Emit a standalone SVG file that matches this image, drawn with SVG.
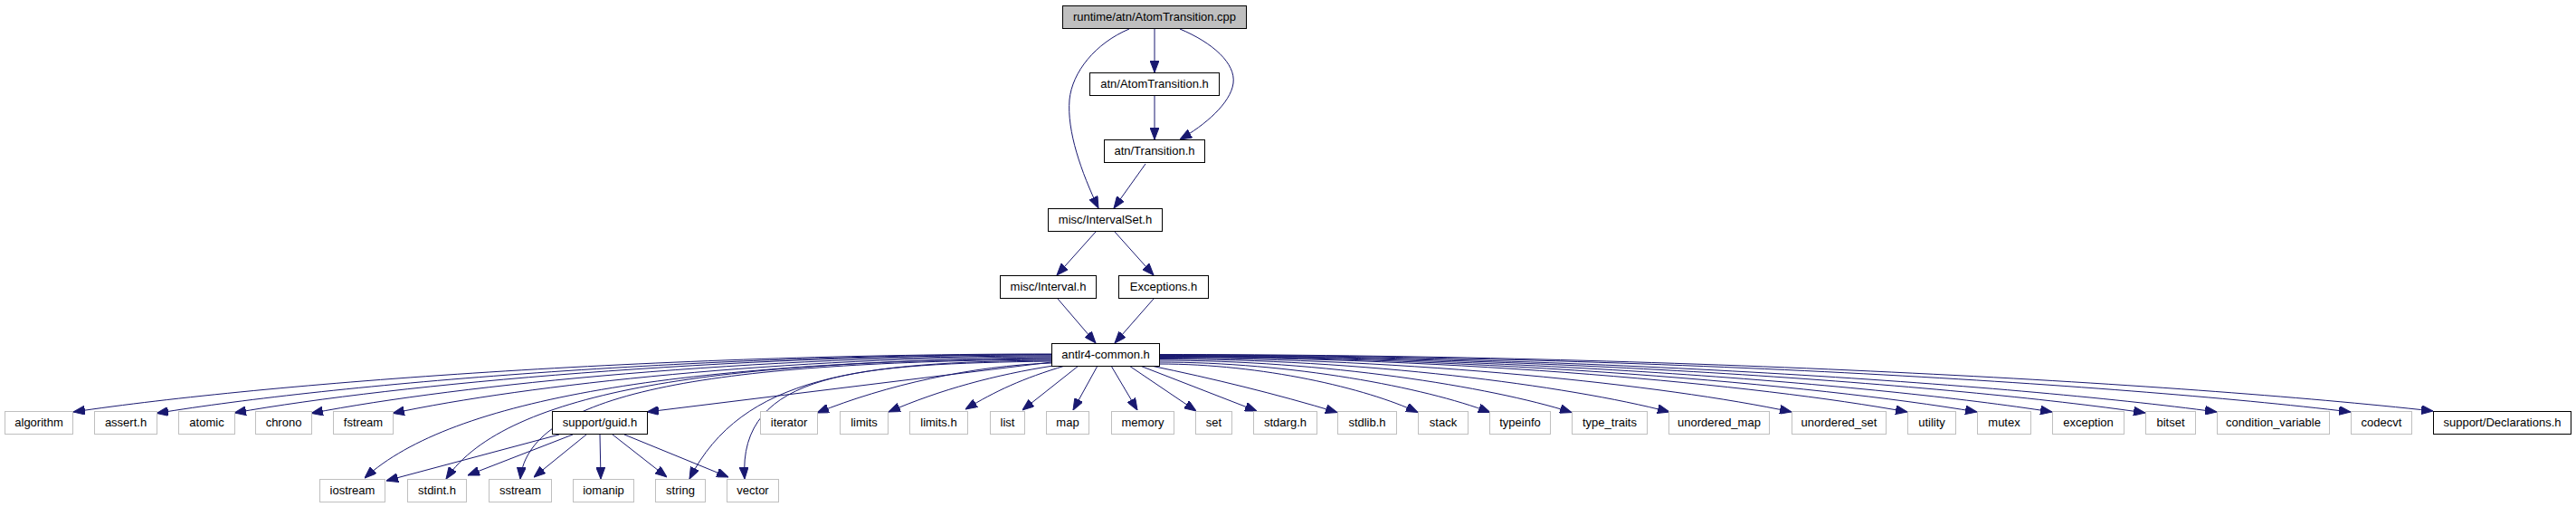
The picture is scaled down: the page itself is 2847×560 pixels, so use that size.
<svg xmlns="http://www.w3.org/2000/svg" width="2847" height="560" viewBox="0 0 2847 560">
<style>
.n rect{fill:#ffffff;stroke:#000000;stroke-width:1}
.n.root rect{fill:#bfbfbf}
.n.ext rect{stroke:#bfbfbf}
.n text{font-family:"Liberation Sans",Arial,sans-serif;font-size:13px;fill:#000000;text-anchor:middle}
.e path{fill:none;stroke:#191970;stroke-width:1;marker-end:url(#ah)}
</style>
<defs>
<marker id="ah" markerUnits="userSpaceOnUse" markerWidth="13" markerHeight="10" refX="13" refY="5" orient="auto">
<path d="M0,0 L13,5 L0,10 z" fill="#191970" stroke="#191970" stroke-width="1"/>
</marker>
</defs>
<rect x="0" y="0" width="2847" height="560" fill="#ffffff"/>
<g id="connectors" class="e">
<path d="M1276,32 L1276,80"/>
<path d="M1276,106 L1276,154"/>
<path d="M1304,32 C1340,47 1366,70 1363,92 C1360,114 1332,138 1304,154"/>
<path d="M1248,32 C1210,48 1185,80 1182,110 C1179,145 1195,190 1214,230"/>
<path d="M1266,181 L1231,230"/>
<path d="M1211,256 L1168,304"/>
<path d="M1232,256 L1275,304"/>
<path d="M1169,330 L1211,379"/>
<path d="M1275,330 L1232,379"/>
<path d="M1162,391 C729.6,391 297.2,423 81,455"/>
<path d="M1162,391.5 C766.4,391.5 370.8,424 173,456.5"/>
<path d="M1162,392 C800.8,392 439.6,424 259,456"/>
<path d="M1162,393 C834.8,393 507.6,424.75 344,456.5"/>
<path d="M1162,394 C870.8,394 579.6,425.25 434,456.5"/>
<path d="M1162,395 C750,400 500,440 403,528"/>
<path d="M1162,396 C800,398 560,430 493,529"/>
<path d="M1162,397 C800,400 585,430 575,529"/>
<path d="M1162,398 C950,400 820,415 762,529"/>
<path d="M1162,399 C950,402 815,410 823,529"/>
<path d="M1162,400 L715,455"/>
<path d="M1162,401 C1075,404 980,425 903,456"/>
<path d="M1164,404 C1100,414 1040,430 982,455"/>
<path d="M1177,404 C1130,418 1100,432 1067,452"/>
<path d="M1192,404 L1130,453"/>
<path d="M1213,404 L1186,453"/>
<path d="M1228,404 L1257,453"/>
<path d="M1248,404 L1322,454"/>
<path d="M1260,404 L1389,454"/>
<path d="M1272,404 C1340,418 1410,435 1478,455.5"/>
<path d="M1281,402 C1395.4,402 1509.8,428.75 1567,455.5"/>
<path d="M1281,400 C1427.4,400 1573.8,427.75 1647,455.5"/>
<path d="M1281,398 C1463.4,398 1645.8,426.75 1737,455.5"/>
<path d="M1281,396.5 C1506.6,396.5 1732.2,425.75 1845,455"/>
<path d="M1281,395.5 C1560.6,395.5 1840.2,425.25 1980,455"/>
<path d="M1281,394.5 C1611.8,394.5 1942.6,424.75 2108,455"/>
<path d="M1281,394 C1642.6,394 2004.2,424.5 2185,455"/>
<path d="M1281,393.5 C1675.8,393.5 2070.6,424.25 2268,455"/>
<path d="M1281,393 C1717,393 2153,424.5 2371,456"/>
<path d="M1281,392.5 C1748.6,392.5 2216.2,423.75 2450,455"/>
<path d="M1281,392 C1807.8,392 2334.6,423.5 2598,455"/>
<path d="M1281,391.5 C1844.2,391.5 2407.4,422.75 2689,454"/>
<path d="M618,480 L427,531"/>
<path d="M633,480 L517,525"/>
<path d="M648,480 L590,527"/>
<path d="M663,480 L664,529"/>
<path d="M677,480 L737,527"/>
<path d="M690,480 L805,527"/>
</g>
<g id="node_root" class="n root"><rect x="1174.5" y="6.5" width="203" height="25"/><text x="1276" y="23">runtime/atn/AtomTransition.cpp</text></g>
<g id="node_atomtransition_h" class="n"><rect x="1204.5" y="80.5" width="143" height="25"/><text x="1276" y="97">atn/AtomTransition.h</text></g>
<g id="node_transition_h" class="n"><rect x="1220.5" y="154.5" width="111" height="25"/><text x="1276" y="171">atn/Transition.h</text></g>
<g id="node_intervalset_h" class="n"><rect x="1158.5" y="230.5" width="126" height="25"/><text x="1221.5" y="247">misc/IntervalSet.h</text></g>
<g id="node_interval_h" class="n"><rect x="1105.5" y="304.5" width="106" height="25"/><text x="1158.5" y="321">misc/Interval.h</text></g>
<g id="node_exceptions_h" class="n"><rect x="1236.5" y="304.5" width="99" height="25"/><text x="1286" y="321">Exceptions.h</text></g>
<g id="node_antlr4_common_h" class="n"><rect x="1162.5" y="379.5" width="119" height="25"/><text x="1222" y="396">antlr4-common.h</text></g>
<g id="node_algorithm" class="n ext"><rect x="5.5" y="454.5" width="75" height="25"/><text x="43" y="471">algorithm</text></g>
<g id="node_assert_h" class="n ext"><rect x="104.5" y="454.5" width="69" height="25"/><text x="139" y="471">assert.h</text></g>
<g id="node_atomic" class="n ext"><rect x="197.5" y="454.5" width="62" height="25"/><text x="228.5" y="471">atomic</text></g>
<g id="node_chrono" class="n ext"><rect x="282.5" y="454.5" width="62" height="25"/><text x="313.5" y="471">chrono</text></g>
<g id="node_fstream" class="n ext"><rect x="368.5" y="454.5" width="66" height="25"/><text x="401.5" y="471">fstream</text></g>
<g id="node_guid_h" class="n"><rect x="610.5" y="454.5" width="105" height="25"/><text x="663" y="471">support/guid.h</text></g>
<g id="node_iterator" class="n ext"><rect x="840.5" y="454.5" width="63" height="25"/><text x="872" y="471">iterator</text></g>
<g id="node_limits" class="n ext"><rect x="928.5" y="454.5" width="53" height="25"/><text x="955" y="471">limits</text></g>
<g id="node_limits_h" class="n ext"><rect x="1005.5" y="454.5" width="64" height="25"/><text x="1037.5" y="471">limits.h</text></g>
<g id="node_list" class="n ext"><rect x="1094.5" y="454.5" width="38" height="25"/><text x="1113.5" y="471">list</text></g>
<g id="node_map" class="n ext"><rect x="1156.5" y="454.5" width="47" height="25"/><text x="1180" y="471">map</text></g>
<g id="node_memory" class="n ext"><rect x="1228.5" y="454.5" width="69" height="25"/><text x="1263" y="471">memory</text></g>
<g id="node_set" class="n ext"><rect x="1321.5" y="454.5" width="40" height="25"/><text x="1341.5" y="471">set</text></g>
<g id="node_stdarg_h" class="n ext"><rect x="1385.5" y="454.5" width="70" height="25"/><text x="1420.5" y="471">stdarg.h</text></g>
<g id="node_stdlib_h" class="n ext"><rect x="1478.5" y="454.5" width="65" height="25"/><text x="1511" y="471">stdlib.h</text></g>
<g id="node_stack" class="n ext"><rect x="1567.5" y="454.5" width="55" height="25"/><text x="1595" y="471">stack</text></g>
<g id="node_typeinfo" class="n ext"><rect x="1646.5" y="454.5" width="67" height="25"/><text x="1680" y="471">typeinfo</text></g>
<g id="node_type_traits" class="n ext"><rect x="1737.5" y="454.5" width="83" height="25"/><text x="1779" y="471">type_traits</text></g>
<g id="node_unordered_map" class="n ext"><rect x="1844.5" y="454.5" width="111" height="25"/><text x="1900" y="471">unordered_map</text></g>
<g id="node_unordered_set" class="n ext"><rect x="1980.5" y="454.5" width="104" height="25"/><text x="2032.5" y="471">unordered_set</text></g>
<g id="node_utility" class="n ext"><rect x="2108.5" y="454.5" width="53" height="25"/><text x="2135" y="471">utility</text></g>
<g id="node_mutex" class="n ext"><rect x="2185.5" y="454.5" width="59" height="25"/><text x="2215" y="471">mutex</text></g>
<g id="node_exception" class="n ext"><rect x="2268.5" y="454.5" width="79" height="25"/><text x="2308" y="471">exception</text></g>
<g id="node_bitset" class="n ext"><rect x="2371.5" y="454.5" width="55" height="25"/><text x="2399" y="471">bitset</text></g>
<g id="node_condition_variable" class="n ext"><rect x="2450.5" y="454.5" width="124" height="25"/><text x="2512.5" y="471">condition_variable</text></g>
<g id="node_codecvt" class="n ext"><rect x="2598.5" y="454.5" width="67" height="25"/><text x="2632" y="471">codecvt</text></g>
<g id="node_declarations_h" class="n"><rect x="2689.5" y="454.5" width="152" height="25"/><text x="2765.5" y="471">support/Declarations.h</text></g>
<g id="node_iostream" class="n ext"><rect x="353.5" y="529.5" width="72" height="25"/><text x="389.5" y="546">iostream</text></g>
<g id="node_stdint_h" class="n ext"><rect x="450.5" y="529.5" width="65" height="25"/><text x="483" y="546">stdint.h</text></g>
<g id="node_sstream" class="n ext"><rect x="540.5" y="529.5" width="69" height="25"/><text x="575" y="546">sstream</text></g>
<g id="node_iomanip" class="n ext"><rect x="633.5" y="529.5" width="67" height="25"/><text x="667" y="546">iomanip</text></g>
<g id="node_string" class="n ext"><rect x="724.5" y="529.5" width="55" height="25"/><text x="752" y="546">string</text></g>
<g id="node_vector" class="n ext"><rect x="803.5" y="529.5" width="57" height="25"/><text x="832" y="546">vector</text></g>
</svg>
